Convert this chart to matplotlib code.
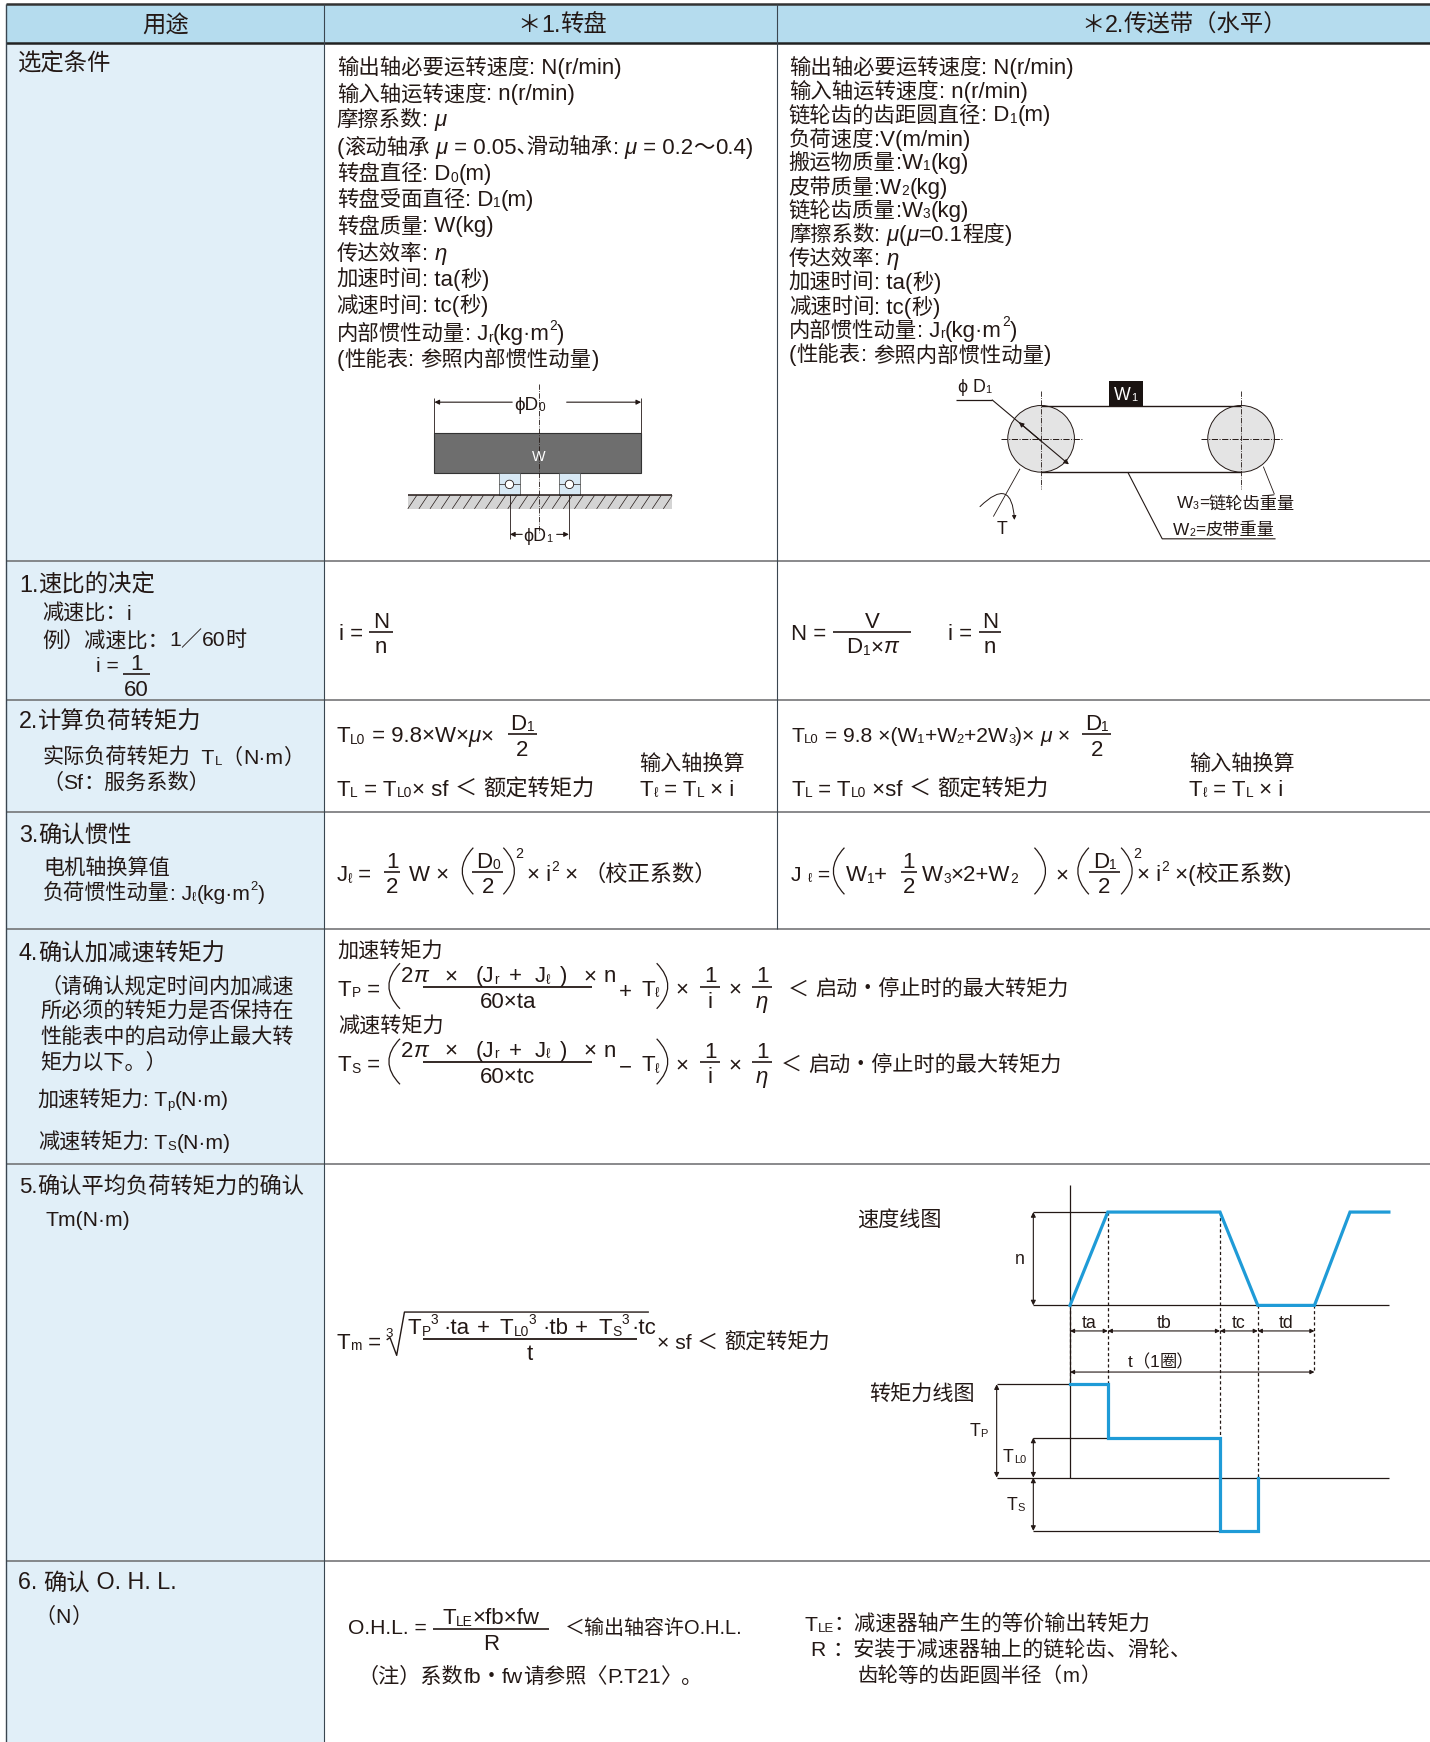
import re
import numpy as np
import matplotlib
matplotlib.use('Agg')
import matplotlib.pyplot as plt
from matplotlib.patches import Rectangle, Ellipse, PathPatch, Circle
from matplotlib.path import Path

FAM = ['Liberation Sans', 'Noto Sans CJK SC', 'DejaVu Sans']
plt.rcParams['font.family'] = FAM
INK = '#231815'
BLUE = '#1f9bd7'
W, H = 1287, 1568

# ---------- table structure ----------
col_edges = [5, 292, 699, 1287]
row_edges = [4, 39, 505, 630, 731, 836, 1048, 1405, 1568]
headers = ['用途', '＊1.转盘', '＊2.传送带（水平）']
header_centers = [149, 506, 1066]

# ---------- text (markup: ~sub~  ^sup^  |italic|) ----------
turntable_conditions = ['输出轴必要运转速度: N(r/min)', '输入轴运转速度: n(r/min)', '摩擦系数: |μ|',
    '(滚动轴承 |μ| = 0.05､滑动轴承: |μ| = 0.2～0.4)', '转盘直径: D~0~(m)', '转盘受面直径: D~1~(m)',
    '转盘质量: W(kg)', '传达效率: |η|', '加速时间: ta(秒)', '减速时间: tc(秒)',
    '内部惯性动量: J~r~(kg·m^2^)', '(性能表: 参照内部惯性动量)']
turntable_y = [59, 83, 106, 131, 155, 178, 202, 227, 250, 274, 299, 322]
belt_conditions = ['输出轴必要运转速度: N(r/min)', '输入轴运转速度: n(r/min)', '链轮齿的齿距圆直径: D~1~(m)',
    '负荷速度:V(m/min)', '搬运物质量:W~1~(kg)', '皮带质量:W~2~(kg)', '链轮齿质量:W~3~(kg)',
    '摩擦系数: |μ|(|μ|=0.1程度)', '传达效率: |η|', '加速时间: ta(秒)', '减速时间: tc(秒)',
    '内部惯性动量: J~r~(kg·m^2^)', '(性能表: 参照内部惯性动量)']
belt_y = [59, 81, 102, 124, 145, 167, 188, 210, 231, 253, 275, 296, 318]

left_texts = [
    (16, 56, '选定条件', 21), (17, 525, '1.速比的决定', 21), (38, 551, '减速比：i', 19),
    (38, 575, '例）减速比：1／60时', 19), (86, 598, 'i =', 19),
    (17, 648, '2.计算负荷转矩力', 21), (38, 681, '实际负荷转矩力  T~L~（N·m）', 19), (38, 703, '（Sf：服务系数）', 19),
    (17, 750, '3.确认惯性', 21), (39, 780, '电机轴换算值', 19), (39, 803, '负荷惯性动量: J~ℓ~(kg·m^2^)', 19),
    (17, 857, '4.确认加减速转矩力', 21), (36, 887, '（请确认规定时间内加减速', 19), (36, 909, '所必须的转矩力是否保持在', 19),
    (36, 932, '性能表中的启动停止最大转', 19), (36, 955, '矩力以下。）', 19), (34, 989, '加速转矩力: T~p~(N·m)', 19),
    (34, 1027, '减速转矩力: T~S~(N·m)', 19), (17, 1067, '5.确认平均负荷转矩力的确认', 20),
    (41, 1097, 'Tm(N·m)', 19), (16, 1423, '6. 确认 O. H. L. ', 21), (31, 1454, '（N）', 19),
]
formula_texts = [
    (305, 569, 'i =', 20), (712, 569, 'N =', 20), (853, 569, 'i =', 20),
    (303, 661, 'T~L0~ = 9.8×W×|μ|×', 20), (303, 709, 'T~L~ = T~L0~× sf ＜ 额定转矩力', 20),
    (575, 686, '输入轴换算', 19), (576, 709, 'T~ℓ~ = T~L~ × i', 20),
    (712, 661, 'T~L0~ = 9.8 ×(W~1~+W~2~+2W~3~)× |μ| ×', 19), (712, 709, 'T~L~ = T~L0~ ×sf ＜ 额定转矩力', 20),
    (1070, 686, '输入轴换算', 19), (1070, 709, 'T~ℓ~ = T~L~ × i', 20),
    (303, 786, 'J~ℓ~ =', 20), (368, 786, 'W ×', 20), (474, 786, '× i^2^ × （校正系数）', 20),
    (712, 786, 'J ~ℓ~ =', 19), (761, 786, 'W~1~+', 20), (830, 786, 'W~3~×2+W~2~', 20), (950, 786, '×', 20),
    (1023, 786, '× i^2^ ×(校正系数)', 20),
    (304, 855, '加速转矩力', 19), (304, 889, 'T~P~ =', 20), (608, 889, '×', 20), (656, 889, '×', 20),
    (709, 889, '＜ 启动・停止时的最大转矩力', 19), (557, 891, '+', 20), (577, 889, 'T~ℓ~', 20),
    (304, 923, '减速转矩力', 19), (304, 957, 'T~S~ =', 20), (608, 957, '×', 20), (656, 957, '×', 20),
    (703, 957, '＜ 启动・停止时的最大转矩力', 19), (557, 959, '−', 20), (577, 957, 'T~ℓ~', 20),
    (303, 1207, 'T~m~ =', 20), (591, 1207, '× sf ＜ 额定转矩力', 19), (771, 1097, '速度线图', 19), (782, 1254, '转矩力线图', 19),
    (313, 1464, 'O.H.L. =', 19), (508, 1464, '＜输出轴容许O.H.L.', 18),
    (322, 1508, '（注）系数fb・fw请参照〈P.T21〉。', 19),
    (724, 1461, 'T~LE~：减速器轴产生的等价输出转矩力', 19), (730, 1484, 'R ：安装于减速器轴上的链轮齿、滑轮、', 19),
    (772, 1507, '齿轮等的齿距圆半径（m）', 18.5),
]
numerator_pieces = [(361, '2|π|'), (400, '×'), (428, '(J~r~'), (458, '+'), (481, 'J~ℓ~'), (504, ')'), (525, '×'), (543, 'n')]
numerator_rows = [877, 944]
radicand_pieces = [(367, 'T~P~^3^'), (399, '·ta'), (429, '+'), (450, 'T~L0~^3^'), (488, '·tb'),
                   (517, '+'), (539, 'T~S~^3^'), (568, '·tc')]
fractions = [  # centre x, bar half-width, bar y, numerator, denominator
    (123, 12, 607, '1', '60'), (343, 11, 569, 'N', 'n'), (785, 35, 569, 'V', 'D~1~×|π|'), (891, 10, 569, 'N', 'n'),
    (470, 13, 661, 'D~1~', '2'), (987, 13, 661, 'D~1~', '2'), (353, 7, 785, '1', '2'), (439, 14, 785, 'D~0~', '2'),
    (818, 7, 785, '1', '2'), (994, 14, 785, 'D~1~', '2'), (639, 9, 888, '1', 'i'), (686, 9, 888, '1', '|η|'),
    (639, 9, 956, '1', 'i'), (686, 9, 956, '1', '|η|'), (442, 52, 1466, 'T~LE~×fb×fw', 'R'),
]
long_bars = [(457, 76, 888, '60×ta'), (457, 76, 956, '60×tc'), (477, 96, 1205, 't')]
parens = [(426, 763, 805, -1), (453, 763, 805, 1), (760, 763, 805, -1), (931, 763, 805, 1),
          (980, 763, 805, -1), (1009, 763, 805, 1), (360, 867, 908, -1), (591, 867, 908, 1),
          (360, 935, 976, -1), (591, 935, 976, 1)]

# ---------- timing chart values ----------
phase_names = ['ta', 'tb', 'tc', 'td']
phase_lengths = [34, 101, 34, 51]
rise_again = 32
tail = 35
speed_levels = [0, 1, 1, 0, 0, 1, 1]
torque_pos = 84   # Tp
torque_load = 36  # TL0
torque_neg = 48   # Ts

fig = plt.figure(figsize=(14.30, 17.42), dpi=100)
ax = fig.add_axes([0, 0, 1, 1])
ax.set_xlim(0, W)
ax.set_ylim(H, 0)
ax.axis('off')
PT = 0.8
rend = fig.canvas.get_renderer()
px_per_unit = 1430 / W


def width(s, size, style='normal'):
    probe = ax.text(0, 0, '|' + s + '|', fontsize=size * PT, style=style)
    w1 = probe.get_window_extent(rend).width
    probe.set_text('||')
    w0 = probe.get_window_extent(rend).width
    probe.remove()
    return (w1 - w0) / px_per_unit


def rich(x, y, s, size=20, color=INK, center=False, zorder=5, cjk=1.0):
    parts = re.split(r'(~[^~]*~|\^[^^]*\^|\|[^|]*\|)', s)
    items = []
    total = 0
    for p in parts:
        if not p:
            continue
        sz, dy, st = size, 0.36 * size, 'normal'
        if p[0] == '~':
            p, sz, dy = p[1:-1], size * 0.62, 0.42 * size
        elif p[0] == '^':
            p, sz, dy = p[1:-1], size * 0.62, -0.12 * size
        elif p[0] == '|':
            p, st = p[1:-1], 'italic'
        for q in re.split(r'([\u2E80-\uFFFF]+)', p):
            if not q:
                continue
            qs = sz * cjk if re.match(r'[\u2E80-\uFFFF]', q) else sz
            w = width(q, qs, st)
            items.append((q, qs, dy, st, w))
            total += w
    cx = x - total / 2 if center else x
    for p, sz, dy, st, w in items:
        ax.text(cx, y + dy, p, fontsize=sz * PT, style=st, color=color, ha='left', va='baseline', zorder=zorder)
        cx += w


def line(xs, ys, lw=0.8, color=INK, ls='-', z=3):
    ax.plot(xs, ys, lw=lw, color=color, ls=ls, solid_capstyle='butt', zorder=z)


def arrow(x0, y0, x1, y1, both=True, ms=7):
    ax.annotate('', xy=(x1, y1), xytext=(x0, y0),
                arrowprops=dict(arrowstyle='<|-|>' if both else '-|>', color=INK, lw=0.8,
                                shrinkA=0, shrinkB=0, mutation_scale=ms), zorder=4)


def paren(x, y0, y1, d):
    path = Path([(x, y0), (x + d * 20, (y0 + y1) / 2), (x, y1)], [Path.MOVETO, Path.CURVE3, Path.CURVE3])
    ax.add_patch(PathPatch(path, fc='none', ec=INK, lw=0.9, zorder=5))


# ---------- table ----------
ax.add_patch(Rectangle((5, 4), W - 5, 35, fc='#b5dcee', ec='none', zorder=0))
ax.add_patch(Rectangle((5, 39), 287, H - 39, fc='#e1eff8', ec='none', zorder=0))
for y in row_edges[2:-1]:
    line([5, W], [y, y], lw=1.1, color='#6a6a6c', z=2)
line([5, W], [4, 4], lw=1.8, color='#333333', z=2)
line([5, W], [39, 39], lw=1.8, color='#222222', z=2)
line([5, 5], [4, H], lw=1.0, color='#3a4650', z=2)
line([292, 292], [4, H], lw=0.8, color='#3a4650', z=2)
line([699, 699], [4, 836], lw=0.8, color='#3a4650', z=2)
for name, cx in zip(headers, header_centers):
    rich(cx, 21, name, size=21, center=True)

for s, y in zip(turntable_conditions, turntable_y):
    rich(303, y, s, 20, cjk=0.96)
for s, y in zip(belt_conditions, belt_y):
    rich(710, y, s, 20, cjk=0.96)
for x, y, s, sz in left_texts:
    rich(x, y, s, sz)
for x, y, s, sz in formula_texts:
    rich(x, y, s, sz)
for y in numerator_rows:
    for x, s in numerator_pieces:
        rich(x, y, s, 20)
for x, s in radicand_pieces:
    rich(x, 1194, s, 20)
for cx, hw, y, a, b in fractions:
    line([cx - hw, cx + hw], [y, y], lw=1.2)
    rich(cx, y - 11, a, 20, center=True)
    rich(cx, y + 12, b, 20, center=True)
for cx, hw, y, b in long_bars:
    line([cx - hw, cx + hw], [y, y], lw=1.3)
    rich(cx, y + 12, b, 20, center=True)
for x, y0, y1, d in parens:
    paren(x, y0, y1, d)
rich(464, 768, '2', 13)
rich(1020, 768, '2', 13)
# radical
line([348, 351, 357, 364, 584], [1206, 1204, 1220, 1181, 1181], lw=1.0)
rich(347, 1199, '3', 12)

# ---------- turntable sketch ----------
ax.add_patch(Rectangle((391, 390), 186, 36, fc='#6e6e6e', ec='#333333', lw=0.8, zorder=3))
rich(485, 410, 'W', 13, color='white', center=True)
for bx in (449, 503):
    ax.add_patch(Rectangle((bx, 426), 19, 20, fc='#d8e9f5', ec='#444444', lw=0.5, zorder=3))
    ax.add_patch(Circle((bx + 9.5, 436), 3.8, fc='white', ec=INK, lw=0.6, zorder=4))
    line([bx, bx + 19], [436, 436], lw=0.5, z=3)
ax.add_patch(Rectangle((367, 446), 238, 12, fc='#d4d4d4', ec='none', zorder=2))
for hx in range(370, 606, 10):
    line([hx - 3, hx + 5], [458, 446], lw=0.5, z=3)
line([367, 605], [446, 446], lw=1.1)
line([485, 485], [346, 480], lw=0.6, ls='-.', z=4)
line([391, 391], [358, 390], lw=0.6)
line([577, 577], [358, 390], lw=0.6)
arrow(461, 362, 391, 362, both=False)
arrow(510, 362, 577, 362, both=False)
rich(463, 363, 'ϕD~0~', 17)
line([459, 459], [446, 485], lw=0.6)
line([512, 512], [446, 485], lw=0.6)
arrow(470, 481, 459, 481, both=False)
arrow(501, 481, 512, 481, both=False)
rich(471, 481, 'ϕD~1~', 16)

# ---------- belt sketch ----------
for cx in (937, 1117):
    ax.add_patch(Ellipse((cx, 395), 60, 60, fc='#e4e4e4', ec=INK, lw=0.7, zorder=3))
    line([cx, cx], [352, 440], lw=0.6, ls='-.', z=4)
    line([cx - 36, cx + 38], [395, 395], lw=0.7, ls='-.', z=4)
line([937, 1117], [365, 365], lw=1.0)
line([937, 1117], [425, 425], lw=1.0)
ax.add_patch(Rectangle((998, 343), 31, 22, fc='#1a1311', ec='none', zorder=4))
rich(1013, 354, 'W~1~', 16, color='white', center=True)
rich(862, 347, 'ϕ D~1~', 16)
line([860, 893], [360, 360], lw=0.9)
arrow(893, 360, 962, 418, both=False)
arrow(937, 397, 917, 380, both=False)
line([918, 894], [422, 465], lw=0.6)
line([1015, 1046, 1148], [425, 485, 485], lw=0.8)
line([1137, 1147], [420, 445], lw=0.6)
rich(1059, 452, 'W~3~=链轮齿重量', 15.5)
rich(1056, 476, 'W~2~=皮带重量', 15.5)
rich(897, 475, 'T', 16)
ax.annotate('', xy=(913, 468), xytext=(882, 456),
            arrowprops=dict(arrowstyle='-|>', color=INK, lw=0.7, mutation_scale=6, shrinkA=0, shrinkB=0,
                            connectionstyle='arc3,rad=-1.1'), zorder=3)

# ---------- timing charts, drawn in data axes ----------
X0 = 963
breaks = np.cumsum([0] + phase_lengths)
t_speed = np.concatenate([breaks, [breaks[-1] + rise_again, breaks[-1] + rise_again + tail]])
span = t_speed[-1]


def inset(y_top, y_bot):
    return fig.add_axes([X0 / W, 1 - y_bot / H, span / W, (y_bot - y_top) / H], facecolor='none')


sp = inset(1091, 1175)
sp.set_xlim(0, span)
sp.set_ylim(0, 1)
sp.axis('off')
sp.plot(t_speed, speed_levels, color=BLUE, lw=2.3, clip_on=False, solid_joinstyle='miter', zorder=6)

tq = inset(1246, 1378)
tq.set_xlim(0, span)
tq.set_ylim(-torque_neg, torque_pos)
tq.axis('off')
t_torque = [breaks[0], breaks[1], breaks[1], breaks[2], breaks[2], breaks[3], breaks[3]]
v_torque = [torque_pos, torque_pos, torque_load, torque_load, -torque_neg, -torque_neg, 0]
tq.plot(t_torque, v_torque, color=BLUE, lw=2.3, clip_on=False, solid_joinstyle='miter', zorder=6)

B = X0 + breaks
line([963, 963], [1067, 1330], lw=0.9)
line([930, 997], [1091, 1091], lw=0.9)
line([930, 1250], [1175, 1175], lw=0.9)
arrow(930, 1091, 930, 1175)
rich(918, 1132, 'n', 16, center=True)
for x, y0, y1 in [(B[0], 1175, 1246), (B[1], 1091, 1246), (B[2], 1091, 1294), (B[3], 1175, 1330), (B[4], 1175, 1235)]:
    line([x, x], [y0, y1], lw=0.9, ls=(0, (2.5, 2)))
for i, name in enumerate(phase_names):
    arrow(B[i], 1198, B[i + 1], 1198, ms=6)
    rich((B[i] + B[i + 1]) / 2, 1190, name, 16, center=True)
arrow(B[0], 1235, B[4], 1235, ms=6)
rich(1045, 1225, 't（1圈）', 15.5, center=True)
line([897, 963], [1246, 1246], lw=0.9)
line([897, 1250], [1330, 1330], lw=0.9)
line([930, 997], [1294, 1294], lw=0.9)
line([930, 1098], [1378, 1378], lw=0.9)
arrow(897, 1246, 897, 1330)
arrow(930, 1294, 930, 1330)
arrow(930, 1330, 930, 1378)
rich(881, 1287, 'T~P~', 16, center=True)
rich(913, 1310, 'T~L0~', 16, center=True)
rich(914, 1353, 'T~S~', 16, center=True)

fig.savefig('out.png', dpi=100)
